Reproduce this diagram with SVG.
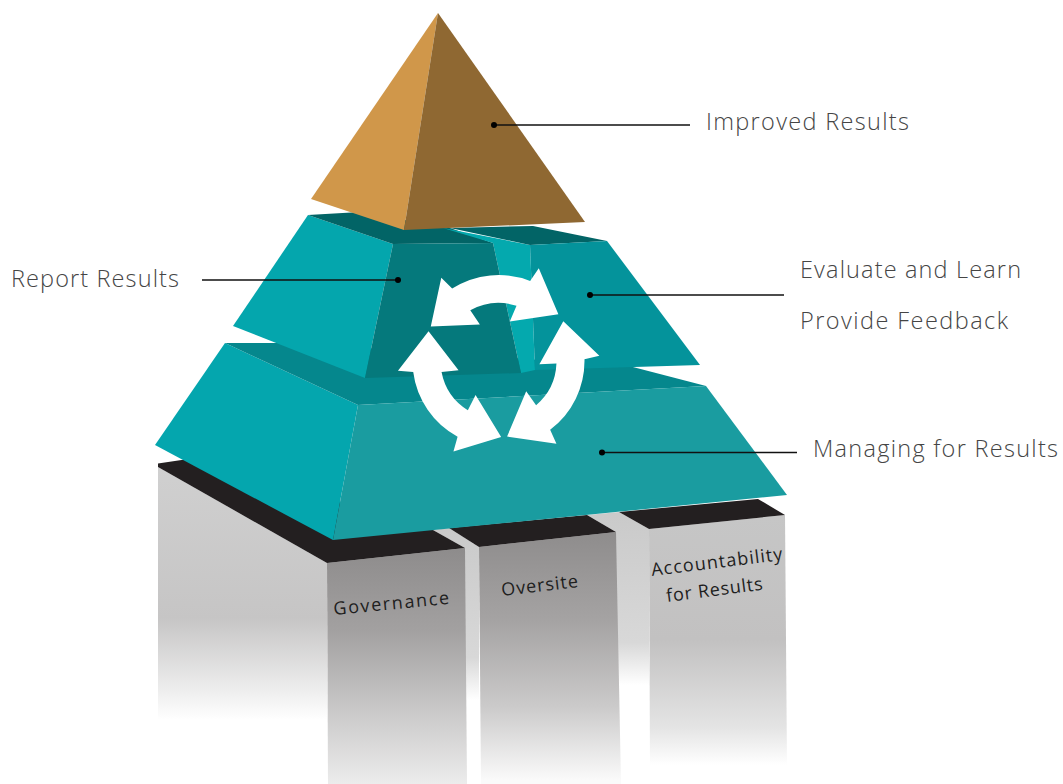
<svg xmlns="http://www.w3.org/2000/svg" width="1063" height="784" viewBox="0 0 1063 784">
<defs>
<style>
.lbl{font-family:"Open Sans",Lato,"Liberation Sans",sans-serif;font-weight:300;font-size:23.5px;fill:#454545}
.pl{font-family:"Open Sans","Liberation Sans",sans-serif;font-size:18px;fill:#1e1e1e}
.lead{stroke:#111;stroke-width:1.6;fill:none}
.dot{fill:#000}
.blk{fill:#231f20}
.arr{fill:#fff}
</style>
<linearGradient id="gLeft" gradientUnits="userSpaceOnUse" x1="0" y1="465" x2="0" y2="720">
<stop offset="0" stop-color="#d0d0d0"/><stop offset="0.6" stop-color="#c6c5c5"/><stop offset="0.9" stop-color="#f0f0f0"/><stop offset="1" stop-color="#fff"/>
</linearGradient>
<linearGradient id="gGov" gradientUnits="userSpaceOnUse" x1="0" y1="550" x2="0" y2="784">
<stop offset="0" stop-color="#8e8c8c"/><stop offset="0.35" stop-color="#a3a1a1"/><stop offset="0.7" stop-color="#cbcaca"/><stop offset="1" stop-color="#ececec"/>
</linearGradient>
<linearGradient id="gOv" gradientUnits="userSpaceOnUse" x1="0" y1="535" x2="0" y2="780">
<stop offset="0" stop-color="#8f8d8d"/><stop offset="0.35" stop-color="#a5a3a3"/><stop offset="0.7" stop-color="#cbcaca"/><stop offset="1" stop-color="#fafafa"/>
</linearGradient>
<linearGradient id="gAcc" gradientUnits="userSpaceOnUse" x1="0" y1="515" x2="0" y2="765">
<stop offset="0" stop-color="#c6c6c6"/><stop offset="0.5" stop-color="#c2c1c1"/><stop offset="0.85" stop-color="#e4e4e4"/><stop offset="1" stop-color="#fff"/>
</linearGradient>
<linearGradient id="gGap1" gradientUnits="userSpaceOnUse" x1="0" y1="530" x2="0" y2="700">
<stop offset="0" stop-color="#cacaca"/><stop offset="0.75" stop-color="#d8d8d8"/><stop offset="1" stop-color="#fff"/>
</linearGradient>
<linearGradient id="gGap2" gradientUnits="userSpaceOnUse" x1="0" y1="515" x2="0" y2="685">
<stop offset="0" stop-color="#cacaca"/><stop offset="0.75" stop-color="#d8d8d8"/><stop offset="1" stop-color="#fff"/>
</linearGradient>
<path id="ring-arrow" d="M-39.17,-76.56 L-48.97,-88.34 L-64.10,-40.83 L-15.03,-38.15 L-23.22,-53.15 A58,58 0 0 1 23.22,-53.15 L15.03,-38.15 L64.10,-40.83 L48.97,-88.34 L39.17,-76.56 A86,86 0 0 0 -39.17,-76.56 Z"/>
</defs>
<rect width="1063" height="784" fill="#fff"/>

<g id="pillars">
<polygon points="158,467 327,563 327,720 158,720" fill="url(#gLeft)"/>
<polygon points="433,530 449,528 479,547 479,700 465,700 465,548" fill="url(#gGap1)"/>
<polygon points="587,515 619,512 649,529 649,685 616,685 616,532" fill="url(#gGap2)"/>
<g id="governance">
<polygon points="327,563 465,548 467,784 328,784" fill="url(#gGov)"/>
<polygon class="blk" points="158,467 158,463.5 195,458 433,530 465,548 327,563"/>
<text class="pl" transform="translate(334,615) rotate(-5.5)" textLength="116">Governance</text>
</g>
<g id="oversite">
<polygon points="479,547 616,532 621,784 481,784" fill="url(#gOv)"/>
<polygon class="blk" points="449,528 587,515 616,532 479,547"/>
<text class="pl" transform="translate(502,596) rotate(-6.7)" textLength="77">Oversite</text>
</g>
<g id="accountability">
<polygon points="649,529 785,515 787,765 650,765" fill="url(#gAcc)"/>
<polygon class="blk" points="619,512 758,499 785,515 649,529"/>
<text class="pl" transform="translate(652,576) rotate(-7)" textLength="132">Accountability</text>
<text class="pl" transform="translate(667,602) rotate(-7.3)" textLength="97">for Results</text>
</g>
</g>

<g id="tier-managing">
<polygon points="225,343 358,405 333,540 155,445" fill="#04a6ae"/>
<polygon points="225,343 290,343 629,366 706,386 358,405" fill="#05878d"/>
<polygon points="358,405 706,386 787,495 333,540" fill="#1a9ca0"/>
</g>

<g id="tier-report">
<polygon points="308,215 393,244 365,378 233,326" fill="#04a6ad"/>
<polygon points="308,215 360,212 450,228 493,243 393,244" fill="#026466"/>
<polygon points="443,228 530,245 535,370 521,373 493,243" fill="#04a9ae"/>
<polygon points="393,244 493,243 521,373 365,378" fill="#05797c"/>
</g>

<g id="tier-evaluate">
<polygon points="450,228 533,226 607,241 530,245" fill="#026466"/>
<polygon points="530,245 607,241 700,365 535,370" fill="#04939b"/>
</g>

<g id="pyramid">
<polygon points="438,13 311,199 404,230" fill="#d0974a"/>
<polygon points="438,13 404,230 585,222" fill="#8f6832"/>
</g>

<g id="cycle-arrows">
<use href="#ring-arrow" class="arr" transform="translate(498.5,361) rotate(-5.5)"/>
<use href="#ring-arrow" class="arr" transform="translate(498.5,361) rotate(116)"/>
<use href="#ring-arrow" class="arr" transform="translate(498.5,361) rotate(235.5)"/>
</g>

<g id="connectors">
<line class="lead" x1="494" y1="125" x2="690" y2="125"/><circle class="dot" cx="494" cy="125" r="3"/>
<line class="lead" x1="202" y1="280" x2="398" y2="280"/><circle class="dot" cx="398" cy="280" r="3"/>
<line class="lead" x1="590" y1="295" x2="784" y2="295"/><circle class="dot" cx="590" cy="295" r="3"/>
<line class="lead" x1="602" y1="452.5" x2="797" y2="452.5"/><circle class="dot" cx="602" cy="452.5" r="3"/>
</g>

<g id="labels">
<text class="lbl" x="706" y="130" textLength="203">Improved Results</text>
<text class="lbl" x="11" y="287" textLength="168">Report Results</text>
<text class="lbl" x="800" y="278" textLength="221">Evaluate and Learn</text>
<text class="lbl" x="800" y="329" textLength="208">Provide Feedback</text>
<text class="lbl" x="813" y="457" textLength="245">Managing for Results</text>
</g>
</svg>
